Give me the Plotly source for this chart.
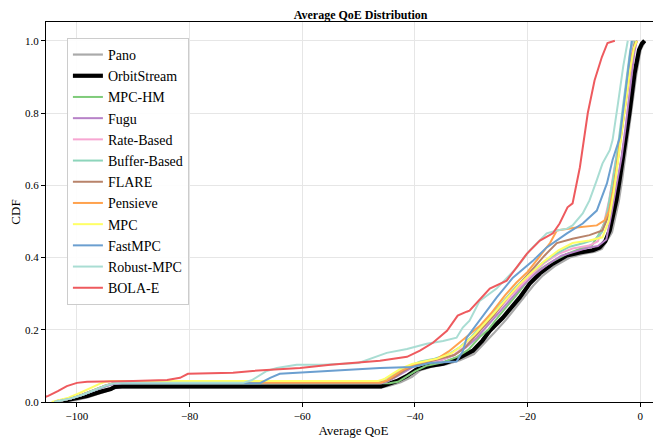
import plotly.graph_objects as go

# ---------------- data ----------------
series_names = ["Pano", "OrbitStream", "MPC-HM", "Fugu", "Rate-Based", "Buffer-Based",
                "FLARE", "Pensieve", "MPC", "FastMPC", "Robust-MPC", "BOLA-E"]

pano_x = [-103, -100, -98, -96, -94, -92.8, -46, -44.5, -42.5, -40.5, -39, -37, -34.5, -32, -29.5, -27.5, -26, -23.8, -21, -19, -17.3, -15, -12.5, -10.2, -8, -6.8, -5, -3.8, -3.2, -2.5, -1.6, -0.7, 0.1, 0.9]
pano_y = [0.0, 0.006, 0.013, 0.024, 0.034, 0.04, 0.04, 0.045, 0.055, 0.07, 0.088, 0.098, 0.104, 0.116, 0.133, 0.165, 0.19, 0.228, 0.284, 0.322, 0.35, 0.378, 0.4, 0.41, 0.416, 0.424, 0.47, 0.555, 0.615, 0.695, 0.795, 0.905, 0.975, 1.0]

orbit_x = [-103.5, -100.9, -98.2, -95.9, -94, -93.3, -92, -46, -45, -43.2, -41.4, -39.7, -37.4, -35, -32.6, -30.3, -29.7, -28, -26.7, -24.4, -21.4, -19.6, -17.8, -15.5, -13, -10.7, -8.4, -7.2, -6.2, -5.4, -4.2, -3.6, -2.8, -1.9, -1.0, -0.2, 0.3, 0.8]
orbit_y = [0.0, 0.008, 0.017, 0.028, 0.036, 0.042, 0.043, 0.043, 0.048, 0.058, 0.072, 0.09, 0.10, 0.106, 0.119, 0.136, 0.142, 0.17, 0.197, 0.233, 0.289, 0.328, 0.356, 0.383, 0.406, 0.414, 0.42, 0.428, 0.445, 0.475, 0.56, 0.62, 0.70, 0.80, 0.91, 0.975, 0.992, 1.0]

mpchm_x = [-104, -101, -99, -97, -95.5, -94, -93, -46, -44.5, -43, -41.5, -40, -38, -35, -32.5, -30.5, -28.5, -27, -25, -22, -20, -18, -15.5, -13, -10.5, -8.5, -7.2, -5.9, -4.9, -4.0, -3.2, -2.0, -1.3, -1.0]
mpchm_y = [0.0, 0.01, 0.02, 0.032, 0.042, 0.049, 0.051, 0.051, 0.052, 0.056, 0.07, 0.085, 0.1, 0.11, 0.125, 0.145, 0.18, 0.2, 0.24, 0.295, 0.335, 0.365, 0.39, 0.41, 0.425, 0.435, 0.467, 0.511, 0.605, 0.678, 0.76, 0.9, 0.975, 1.0]

fugu_x = [-104, -101, -99, -97, -95, -93.5, -92, -46, -45, -43.5, -42, -40, -38, -35.5, -33, -31, -29, -27.5, -25.5, -23, -21, -19, -16.5, -14, -11, -9, -7.5, -6, -5.1, -4.0, -3.3, -2.6, -1.8, -1.0, -0.6]
fugu_y = [0.0, 0.01, 0.02, 0.032, 0.043, 0.05, 0.052, 0.052, 0.056, 0.068, 0.082, 0.1, 0.108, 0.115, 0.13, 0.15, 0.178, 0.205, 0.24, 0.285, 0.32, 0.35, 0.38, 0.405, 0.42, 0.428, 0.432, 0.45, 0.522, 0.614, 0.678, 0.76, 0.87, 0.97, 1.0]

rate_x = [-104, -101, -99, -97, -95, -93.5, -92, -46, -45, -43.5, -42, -40, -37.5, -35, -33, -31, -29.5, -28, -26, -23.5, -21.5, -19.5, -17, -14.5, -12, -9, -7.5, -6.5, -5.5, -4.5, -3.8, -3.0, -2.3, -1.6, -1.2]
rate_y = [0.0, 0.01, 0.02, 0.033, 0.044, 0.051, 0.053, 0.053, 0.058, 0.072, 0.088, 0.102, 0.11, 0.118, 0.132, 0.155, 0.18, 0.205, 0.24, 0.285, 0.318, 0.35, 0.385, 0.41, 0.425, 0.433, 0.445, 0.49, 0.56, 0.65, 0.72, 0.8, 0.9, 0.975, 1.0]

buffer_x = [-104, -101, -99, -97, -95, -93.5, -92, -47, -46, -44.5, -43, -41, -39, -36.5, -34, -32, -30, -28.5, -26.5, -24, -22, -20, -17.5, -15, -12.5, -10, -8, -6.8, -5.8, -4.8, -4.0, -3.2, -2.5, -1.8, -1.3]
buffer_y = [0.0, 0.01, 0.02, 0.033, 0.045, 0.052, 0.054, 0.054, 0.058, 0.07, 0.085, 0.1, 0.112, 0.12, 0.132, 0.152, 0.18, 0.205, 0.24, 0.285, 0.32, 0.35, 0.383, 0.41, 0.43, 0.44, 0.45, 0.47, 0.53, 0.62, 0.7, 0.8, 0.89, 0.97, 1.0]

flare_x = [-104, -101, -99, -97, -95, -93.5, -92, -46, -45, -43.5, -42, -40, -38, -35.5, -33, -31, -29.5, -28, -26, -23.5, -21.5, -19.5, -17, -14.8, -12, -9, -6.7, -5.5, -4.6, -3.8, -3.1, -2.4, -1.7, -1.0, -0.5]
flare_y = [0.0, 0.01, 0.021, 0.034, 0.045, 0.052, 0.054, 0.054, 0.058, 0.07, 0.086, 0.102, 0.11, 0.118, 0.13, 0.152, 0.18, 0.205, 0.24, 0.29, 0.325, 0.36, 0.405, 0.44, 0.452, 0.462, 0.475, 0.52, 0.6, 0.69, 0.77, 0.86, 0.94, 0.99, 1.0]

pensieve_x = [-104, -101, -99, -97, -95, -93.5, -92, -46, -45, -43.5, -42, -40, -38, -36, -34, -32, -30, -28.5, -26.5, -24, -22, -20, -18, -16, -14.8, -11.3, -7.7, -6.3, -5.5, -4.6, -3.8, -3.0, -2.2, -1.3, -0.6]
pensieve_y = [0.0, 0.01, 0.021, 0.034, 0.045, 0.052, 0.054, 0.054, 0.06, 0.075, 0.09, 0.105, 0.113, 0.12, 0.14, 0.165, 0.19, 0.21, 0.245, 0.295, 0.33, 0.36, 0.4, 0.44, 0.475, 0.483, 0.489, 0.503, 0.53, 0.6, 0.69, 0.78, 0.88, 0.97, 1.0]

mpc_x = [-104.5, -101.5, -99.5, -97.5, -96, -95, -94, -46.5, -45.5, -44, -42.5, -40.5, -38.5, -36, -33.5, -31.5, -29.5, -28, -26, -23.5, -21.5, -19.5, -17, -14.5, -12, -9, -6.7, -5.6, -4.7, -3.9, -3.2, -2.5, -1.8, -1.1, -0.6]
mpc_y = [0.0, 0.012, 0.025, 0.04, 0.05, 0.056, 0.058, 0.058, 0.063, 0.078, 0.092, 0.105, 0.112, 0.12, 0.135, 0.158, 0.185, 0.21, 0.245, 0.29, 0.325, 0.355, 0.39, 0.42, 0.44, 0.447, 0.456, 0.5, 0.58, 0.67, 0.75, 0.84, 0.92, 0.98, 1.0]

fastmpc_x = [-104, -101, -99, -97, -95, -93.5, -92, -67.5, -65.7, -64, -55, -46.2, -40.4, -37.4, -32.6, -31.5, -30.8, -28.5, -25.5, -22.6, -19.1, -16.6, -13, -10.2, -7.7, -5.9, -4.9, -3.6, -2.4, -1.5]
fastmpc_y = [0.0, 0.01, 0.02, 0.033, 0.044, 0.051, 0.052, 0.052, 0.067, 0.078, 0.086, 0.094, 0.097, 0.108, 0.112, 0.14, 0.178, 0.225, 0.289, 0.344, 0.39, 0.428, 0.467, 0.494, 0.53, 0.605, 0.67, 0.733, 0.89, 1.0]

robust_x = [-104, -101, -99, -97, -95, -93.5, -92, -70.5, -69, -66.3, -64.5, -61, -56.3, -50, -46.2, -45, -41.4, -37.9, -35, -32.6, -31.5, -30.3, -28.5, -25.5, -21.9, -19.6, -16.6, -14.8, -13, -12, -10.2, -9, -7.7, -6.7, -5.4, -4.9, -4, -3, -2.2]
robust_y = [0.0, 0.01, 0.02, 0.033, 0.045, 0.052, 0.053, 0.053, 0.06, 0.086, 0.094, 0.103, 0.103, 0.108, 0.128, 0.136, 0.147, 0.161, 0.169, 0.178, 0.206, 0.225, 0.28, 0.314, 0.372, 0.42, 0.467, 0.475, 0.48, 0.489, 0.522, 0.558, 0.614, 0.66, 0.697, 0.725, 0.82, 0.93, 1.0]

bola_x = [-106, -105.1, -103.4, -101.8, -100, -98.2, -90, -84, -81.7, -80.3, -72.3, -68.8, -60.4, -55, -46.2, -41.4, -39.1, -36.8, -34.3, -32.4, -30.8, -30.3, -26.7, -23.7, -20.1, -17.8, -15.5, -14.3, -12.9, -12, -10.7, -10.2, -9.3, -8.1, -6.8, -5.8, -4.5]
bola_y = [0.012, 0.017, 0.03, 0.044, 0.053, 0.056, 0.058, 0.061, 0.067, 0.078, 0.081, 0.086, 0.094, 0.103, 0.114, 0.125, 0.142, 0.164, 0.197, 0.239, 0.25, 0.253, 0.314, 0.336, 0.411, 0.447, 0.467, 0.494, 0.539, 0.55, 0.65, 0.706, 0.80, 0.89, 0.955, 0.994, 1.0]

xs = [pano_x, orbit_x, mpchm_x, fugu_x, rate_x, buffer_x, flare_x, pensieve_x, mpc_x, fastmpc_x, robust_x, bola_x]
ys = [pano_y, orbit_y, mpchm_y, fugu_y, rate_y, buffer_y, flare_y, pensieve_y, mpc_y, fastmpc_y, robust_y, bola_y]

x_ticks = [-100, -80, -60, -40, -20, 0]
y_ticks = [0.0, 0.2, 0.4, 0.6, 0.8, 1.0]

# ---------------- styles ----------------
colors = ["#aaaaaa", "#000000", "#7fcb7a", "#b782c8", "#f7a6d2", "#8dd5bb",
          "#b8836a", "#ffa24e", "#ffff66", "#6b9fd0", "#a9ddd3", "#ee5a5e"]
widths = [2.2, 4.2, 2, 2, 2, 2, 2, 2, 2, 2, 2, 2]

FONT = "Liberation Serif, Times New Roman, serif"

fig = go.Figure()
for i, name in enumerate(series_names):
    fig.add_trace(go.Scatter(
        x=xs[i], y=ys[i], mode="lines", name=name,
        line=dict(color=colors[i], width=widths[i]),
    ))

# page body has an 8px margin; size/margins compensate so the plot area lands
# where the reference has it
fig.update_layout(
    width=653, height=430,
    margin=dict(l=38, r=0, t=14, b=36),
    paper_bgcolor="white", plot_bgcolor="white",
    font=dict(family=FONT, color="black", size=11),
    title=dict(text="<b>Average QoE Distribution</b>", x=0.54, xanchor="center",
               y=1 - 6.5 / 430, yanchor="middle", yref="container",
               font=dict(family=FONT, size=12, color="black")),
    legend=dict(x=0.034, y=0.958, xanchor="left", yanchor="top",
                bgcolor="rgba(255,255,255,0.9)", bordercolor="#cccccc", borderwidth=1,
                font=dict(family=FONT, size=14, color="black"),
                tracegroupgap=0, itemwidth=30),
    showlegend=True,
)
fig.update_xaxes(
    range=[-105.5, 3.7], tickvals=x_ticks, ticks="outside", ticklen=4, tickwidth=1,
    tickcolor="black", showline=True, linecolor="black", linewidth=1.3, mirror=True,
    showgrid=True, gridcolor="#e6e6e6", gridwidth=1, zeroline=False,
    tickfont=dict(family=FONT, size=11),
    title=dict(text="Average QoE", font=dict(family=FONT, size=13), standoff=4),
)
fig.update_yaxes(
    range=[0, 1.052], tickvals=y_ticks, tickformat=".1f", ticks="outside", ticklen=4,
    tickwidth=1, tickcolor="black", showline=True, linecolor="black", linewidth=1.3,
    mirror=True, showgrid=True, gridcolor="#e6e6e6", gridwidth=1, zeroline=False,
    tickfont=dict(family=FONT, size=11),
    title=dict(text="CDF", font=dict(family=FONT, size=13), standoff=6),
)

fig.write_html("out.html")
